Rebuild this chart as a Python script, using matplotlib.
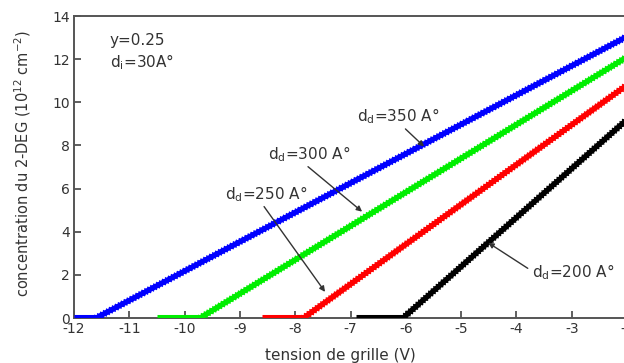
import matplotlib
matplotlib.use("Agg")
import matplotlib.pyplot as plt
import matplotlib.patheffects as pe

plt.rcParams['font.family'] = ['DejaVu Sans']
plt.rcParams['axes.unicode_minus'] = False
plt.rcParams['mathtext.default'] = 'regular'

# Gate voltage (V): start of curve, threshold, end; 2-DEG density (1e12 cm^-2)
v_350 = [-12.0, -11.6, -2.0]
n_350 = [0.0, 0.0, 13.05]
v_300 = [-10.5, -9.72, -2.0]
n_300 = [0.0, 0.0, 12.1]
v_250 = [-8.6, -7.85, -2.0]
n_250 = [0.0, 0.0, 10.8]
v_200 = [-6.9, -6.05, -2.0]
n_200 = [0.0, 0.0, 9.2]

series = [
    (v_350, n_350, '#0000ff'),
    (v_300, n_300, '#00ee00'),
    (v_250, n_250, '#ff0000'),
    (v_200, n_200, '#000000'),
]

x_ticks = [-12, -11, -10, -9, -8, -7, -6, -5, -4, -3, -2]
y_ticks = [0, 2, 4, 6, 8, 10, 12, 14]

fig = plt.figure(figsize=(6.24, 3.63), dpi=100)
ax = fig.add_axes([74 / 624, 45 / 363, 553 / 624, 302 / 363])

for v, n, c in series:
    # below-threshold part, drawn resting on the bottom spine
    ax.plot(v[:2], n[:2], color=c, lw=2.2, solid_capstyle='butt', zorder=4,
            clip_on=False,
            transform=ax.transData + matplotlib.transforms.ScaledTranslation(
                0, 1.2 / 72, fig.dpi_scale_trans))
    # above-threshold part with a serrated stroke
    ax.plot(v[1:], n[1:], color=c, lw=3.4, solid_capstyle='butt', zorder=3,
            path_effects=[pe.Stroke(linewidth=3.4, foreground=c),
                          pe.withTickedStroke(angle=120, length=1.2, spacing=2.4,
                                              linewidth=1.1, foreground=c),
                          pe.withTickedStroke(angle=-60, length=1.2, spacing=2.4,
                                              linewidth=1.1, foreground=c)])

ax.set_xlim(-12, -2)
ax.set_ylim(0, 14)
ax.set_xticks(x_ticks)
ax.set_yticks(y_ticks)
ax.tick_params(direction='in', length=5, width=1.2, labelsize=10,
               color='#444444', labelcolor='#333333', pad=3)
for side in ['left', 'bottom', 'top', 'right']:
    ax.spines[side].set_linewidth(1.4)
    ax.spines[side].set_color('#555555')

ax.set_xlabel('tension de grille (V)', fontsize=11, color='#333333')
ax.xaxis.set_label_coords(0.482, -0.1)
ax.set_ylabel('concentration du 2-DEG (10$^{12}$ cm$^{-2}$)', fontsize=10.5,
              color='#333333')
ax.yaxis.set_label_coords(-0.074, 0.512)

ax.text(-11.35, 12.85, 'y=0.25', fontsize=11, color='#333333', va='center')
ax.text(-11.35, 11.85, 'd$_i$=30A°', fontsize=11, color='#333333', va='center')

arrow = dict(arrowstyle='-|>', color='#333333', lw=1.0, mutation_scale=8,
             shrinkA=0, shrinkB=0)
ax.annotate('d$_d$=350 A°', xy=(-5.67, 7.95), xytext=(-6.88, 9.35),
            fontsize=11, color='#333333', va='center', ha='left',
            arrowprops=dict(arrow, relpos=(0.55, 0.0)))
ax.annotate('d$_d$=300 A°', xy=(-6.79, 4.93), xytext=(-8.5, 7.6),
            fontsize=11, color='#333333', va='center', ha='left',
            arrowprops=dict(arrow, relpos=(0.45, 0.0)))
ax.annotate('d$_d$=250 A°', xy=(-7.46, 1.21), xytext=(-9.27, 5.75),
            fontsize=11, color='#333333', va='center', ha='left',
            arrowprops=dict(arrow, relpos=(0.45, 0.0)))
ax.annotate('d$_d$=200 A°', xy=(-4.51, 3.49), xytext=(-3.72, 2.12),
            fontsize=11, color='#333333', va='center', ha='left',
            arrowprops=dict(arrow, relpos=(-0.05, 0.7)))

fig.savefig('out.png', dpi=100)
